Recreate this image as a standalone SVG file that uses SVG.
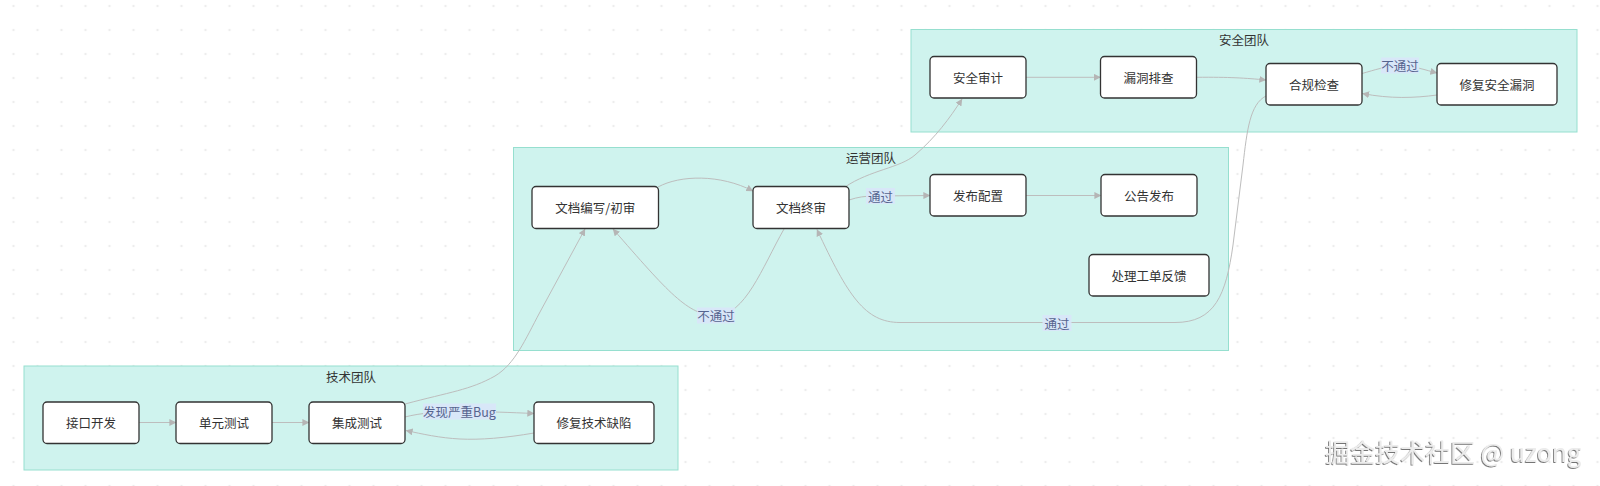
<svg xmlns="http://www.w3.org/2000/svg" width="1600" height="486" viewBox="0 0 1600 486">
<defs>
<pattern id="dots" x="1.5" y="-6" width="24" height="24" patternUnits="userSpaceOnUse">
<circle cx="12" cy="12" r="1.2" fill="#ededed"/>
</pattern>
<marker id="arr" viewBox="0 0 10 10" refX="9.5" refY="5" markerWidth="7" markerHeight="7" markerUnits="userSpaceOnUse" orient="auto">
<path d="M0,0 L10,5 L0,10 z" fill="#b5b5b5"/>
</marker>
<filter id="emb" x="-5%" y="-20%" width="110%" height="140%">
<feDropShadow dx="-0.8" dy="0.9" stdDeviation="0.4" flood-color="#555" flood-opacity="0.9"/>
</filter>
<style>
text{font-family:"Noto Sans CJK SC","Noto Sans",sans-serif;}
.cl{fill:#cff3ee;stroke:#96dfcf;stroke-width:1;}
.ct{font-size:12.5px;fill:#333;text-anchor:middle;dominant-baseline:central;}
.nd rect{fill:#fff;stroke:#333;stroke-width:1.3;}
.nd text{font-size:12.5px;fill:#333;text-anchor:middle;dominant-baseline:central;}
.e{fill:none;stroke:#bdbdbd;stroke-width:1;}
.lb rect{fill:#d8e6f8;opacity:0.9;}
.lb text{font-size:12.5px;fill:#56648f;text-anchor:middle;dominant-baseline:central;}
</style>
</defs>
<rect width="1600" height="486" fill="#fff"/>
<rect width="1600" height="486" fill="url(#dots)"/>

<g id="cluster-tech"><rect class="cl" x="24" y="366" width="654" height="104"/><text class="ct" x="351" y="376.5">技术团队</text></g>
<g id="cluster-ops"><rect class="cl" x="513.5" y="147.5" width="715" height="203"/><text class="ct" x="871" y="157.5">运营团队</text></g>
<g id="cluster-sec"><rect class="cl" x="911" y="29.5" width="666" height="102.5"/><text class="ct" x="1244" y="39">安全团队</text></g>

<g id="connectors">
<path class="e" d="M139,422.5 L176,422.5" marker-end="url(#arr)"/>
<path class="e" d="M272,422.5 L309,422.5" marker-end="url(#arr)"/>
<path class="e" d="M405,417 C420,413 440,411.5 460,411.5 C490,411.5 510,412.5 534,413.5" marker-end="url(#arr)"/>
<path class="e" d="M534,433 C505,438 480,440 460,439 C440,438 422,434 406,430.5" marker-end="url(#arr)"/>
<path class="e" d="M405,404 C450,392 470,390 495,376 C515,364 525,340 540,312 L585,229" marker-end="url(#arr)"/>
<path class="e" d="M658,187 C680,175 720,174 753,191" marker-end="url(#arr)"/>
<path class="e" d="M849,200 C858,197 865,196 875,196 L930,195.5" marker-end="url(#arr)"/>
<path class="e" d="M1026,195.5 L1101,195.5" marker-end="url(#arr)"/>
<path class="e" d="M784,229 C762,268 745,315.5 716,315.5 C688,315.5 668,292 613,229" marker-end="url(#arr)"/>
<path class="e" d="M1266,96 C1250,104 1247,130 1243,165 L1233,245 C1226,295 1215,322.5 1175,322.5 L900,322.5 C865,322.5 848,296 817,229.5" marker-end="url(#arr)"/>
<path class="e" d="M845,187 C870,170 900,168 915,155 C935,138 950,118 962,99" marker-end="url(#arr)"/>
<path class="e" d="M1026,77.3 L1100.5,77.3" marker-end="url(#arr)"/>
<path class="e" d="M1196.5,77.3 C1230,77 1245,78 1266,80" marker-end="url(#arr)"/>
<path class="e" d="M1362,73.5 C1375,70 1385,66 1400,66 C1415,66 1425,70 1437,73" marker-end="url(#arr)"/>
<path class="e" d="M1437,95 C1415,98 1390,99 1362.5,93.5" marker-end="url(#arr)"/>
<g class="lb"><rect x="423" y="403.5" width="73" height="16"/><text x="459.5" y="411.5">发现严重Bug</text></g>
<g class="lb"><rect x="866" y="188" width="29" height="16"/><text x="880.5" y="196">通过</text></g>
<g class="lb"><rect x="697" y="307.5" width="38" height="16"/><text x="716" y="315.5">不通过</text></g>
<g class="lb"><rect x="1042.5" y="315" width="29" height="16"/><text x="1057" y="323">通过</text></g>
<g class="lb"><rect x="1381" y="57.5" width="38" height="16"/><text x="1400" y="65.5">不通过</text></g>
</g>

<g id="n-api" class="nd"><rect x="43" y="402" width="96" height="41.5" rx="4"/><text x="91" y="422.5">接口开发</text></g>
<g id="n-unit" class="nd"><rect x="176" y="402" width="96" height="41.5" rx="4"/><text x="224" y="422.5">单元测试</text></g>
<g id="n-integ" class="nd"><rect x="309" y="402" width="96" height="41.5" rx="4"/><text x="357" y="422.5">集成测试</text></g>
<g id="n-fixtech" class="nd"><rect x="534" y="402" width="120" height="41.5" rx="4"/><text x="594" y="422.5">修复技术缺陷</text></g>

<g id="n-docwrite" class="nd"><rect x="532" y="186.5" width="126.5" height="42" rx="4"/><text x="595.2" y="207.5">文档编写/初审</text></g>
<g id="n-docfinal" class="nd"><rect x="753" y="186.5" width="96" height="42" rx="4"/><text x="801" y="207.5">文档终审</text></g>
<g id="n-release" class="nd"><rect x="930" y="174.5" width="96" height="41.5" rx="4"/><text x="978" y="195.3">发布配置</text></g>
<g id="n-announce" class="nd"><rect x="1101" y="174.5" width="96" height="41.5" rx="4"/><text x="1149" y="195.3">公告发布</text></g>
<g id="n-ticket" class="nd"><rect x="1089" y="254.5" width="120" height="41.5" rx="4"/><text x="1149" y="275.3">处理工单反馈</text></g>

<g id="n-secaudit" class="nd"><rect x="930" y="56.5" width="96" height="41.5" rx="4"/><text x="978" y="77.3">安全审计</text></g>
<g id="n-vuln" class="nd"><rect x="1100.5" y="56.5" width="96" height="41.5" rx="4"/><text x="1148.5" y="77.3">漏洞排查</text></g>
<g id="n-compliance" class="nd"><rect x="1266" y="63.5" width="96" height="41.5" rx="4"/><text x="1314" y="84.3">合规检查</text></g>
<g id="n-fixsec" class="nd"><rect x="1437" y="63.5" width="120" height="41.5" rx="4"/><text x="1497" y="84.3">修复安全漏洞</text></g>

<text x="1325" y="462" font-size="25" fill="#ececec" filter="url(#emb)">掘金技术社区 @ uzong</text>
</svg>
